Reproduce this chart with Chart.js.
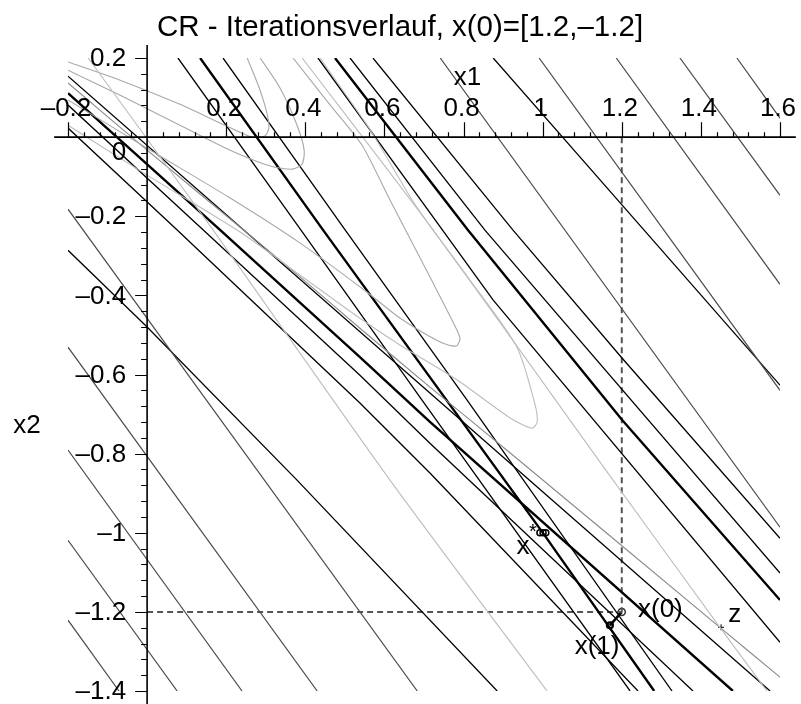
<!DOCTYPE html>
<html>
<head>
<meta charset="utf-8">
<script src="https://cdn.jsdelivr.net/npm/chart.js@4.4.0/dist/chart.umd.min.js"></script>
<style>
  body { margin: 0; background: #fff; }
</style>
</head>
<body>
<canvas id="plot" width="801" height="704"></canvas>
<script>
const titleText = 'CR - Iterationsverlauf, x(0)=[1.2,–1.2]'

// tick labels
const xTickVals = [-0.2, 0.2, 0.4, 0.6, 0.8, 1, 1.2, 1.4, 1.6]
const xTickText = ['–0.2', '0.2', '0.4', '0.6', '0.8', '1', '1.2', '1.4', '1.6']
const yTickVals = [0.2, 0, -0.2, -0.4, -0.6, -0.8, -1, -1.2, -1.4]
const yTickText = ['0.2', '0', '–0.2', '–0.4', '–0.6', '–0.8', '–1', '–1.2', '–1.4']

// contour lines of the model as [x1, x2] points
const blackThin = [
  [[0.078, 0.2], [0.389, -0.235], [0.695, -0.665], [1.221, -1.4]],
  [[0.192, 0.2], [0.501, -0.235], [0.809, -0.665], [1.327, -1.4]],
  [[0.432, 0.2], [0.875, -0.412], [1.6, -1.277]],
  [[0.513, 0.2], [0.854, -0.235], [1.6, -1.102]],
  [[0.571, 0.2], [0.925, -0.235], [1.201, -0.559], [1.6, -1.014]],
  [[0.875, 0.2], [1.201, -0.172], [1.6, -0.627]],
  [[-0.2, 0.154], [0.715, -0.647], [1.575, -1.4]],
  [[-0.2, 0.023], [0.076, -0.235], [0.538, -0.672], [0.715, -0.849], [1.241, -1.4]],
  [[-0.2, 0.081], [0.142, -0.235], [0.538, -0.602], [0.715, -0.774], [1.38, -1.4]],
  [[-0.2, -0.286], [0, -0.48], [0.379, -0.867], [0.885, -1.4]]
]
const blackThick = [
  [[0.134, 0.2], [0.445, -0.235], [1.001, -1.001], [1.282, -1.4]],
  [[0.475, 0.2], [0.811, -0.235], [1.201, -0.715], [1.6, -1.17]],
  [[-0.2, 0.111], [0.185, -0.235], [0.538, -0.556], [0.715, -0.72], [1.481, -1.4]]
]
const darkGray = [
  [[0.741, 0.2], [1.6, -0.986]],
  [[0.991, 0.2], [1.6, -0.64]],
  [[1.186, 0.2], [1.6, -0.372]],
  [[1.347, 0.2], [1.6, -0.147]],
  [[1.491, 0.2], [1.6, 0.048]],
  [[-0.2, -0.182], [0.683, -1.4]],
  [[-0.2, -0.531], [0.43, -1.4]],
  [[-0.2, -0.791], [0.24, -1.4]],
  [[-0.2, -1.019], [0.076, -1.4]],
  [[-0.2, -1.221], [-0.071, -1.4]]
]

// contours of f (gray)
const grayCurves = [
  [[0.253, 0.2], [0.281, 0.131], [0.301, 0.068], [0.308, 0.025], [0.298, 0.003], [0.265, 0], [0.197, 0.03], [0.083, 0.083], [-0.068, 0.144], [-0.2, 0.19]],
  [[0.286, 0.2], [0.336, 0.124], [0.379, 0.03], [0.397, -0.033], [0.392, -0.068], [0.367, -0.081], [0.311, -0.073], [0.21, -0.033], [0.083, 0.03], [-0.068, 0.106], [-0.2, 0.169]],
  [[0.369, 0.2], [0.463, 0.081], [0.543, -0.02], [0.614, -0.159], [0.723, -0.369], [0.771, -0.463], [0.791, -0.508], [0.781, -0.528], [0.741, -0.518], [0.64, -0.458], [0.556, -0.392], [0.387, -0.268], [0.21, -0.154], [0, -0.028], [-0.2, 0.094]]
]
const lightCurves = [
  [[0.437, 0.2], [0.564, 0.018], [0.67, -0.159], [0.723, -0.235], [0.816, -0.361], [0.935, -0.531], [0.981, -0.677], [0.986, -0.72], [0.973, -0.736], [0.918, -0.71], [0.784, -0.614], [0.64, -0.526], [0.538, -0.458], [0.387, -0.349], [0.235, -0.24], [0, -0.096], [-0.2, 0.03]],
  [[-0.149, 0.2], [0.167, -0.235], [0.614, -0.867], [1.011, -1.4]],
  [[0.392, 0.2], [0.723, -0.235], [1.178, -0.867], [1.448, -1.239], [1.567, -1.4]]
]
const midCurve = [[-0.2, 0.137], [0, -0.033], [0.26, -0.248], [0.387, -0.354], [0.538, -0.483], [0.715, -0.632], [0.925, -0.804], [1.448, -1.239], [1.6, -1.365]]

// iterates
const xStart = [1.2, -1.2]
const xNext = [1.17, -1.234]
const xStarPts = [[0.993, -1], [1.001, -1], [1.008, -1]]
const zPoint = [1.451, -1.239]

const pts = arr => arr.map(p => ({ x: p[0], y: p[1] }))

const line = (arr, color, width, extra) => Object.assign({
  data: pts(arr),
  showLine: true,
  borderColor: color,
  borderWidth: width,
  pointRadius: 0,
  fill: false,
  tension: 0
}, extra || {})

let datasets = []
lightCurves.forEach(c => datasets.push(line(c, '#bdbdbd', 1.1, { tension: 0.25 })))
grayCurves.forEach(c => datasets.push(line(c, '#a8a8a8', 1.1, { tension: 0.25 })))
datasets.push(line(midCurve, '#8a8a8a', 1.1, { tension: 0.25 }))
darkGray.forEach(c => datasets.push(line(c, '#4a4a4a', 1.2)))
blackThin.forEach(c => datasets.push(line(c, '#000', 1.3)))
blackThick.forEach(c => datasets.push(line(c, '#000', 2.4)))

// dashed guides to x(0)
datasets.push(line([[xStart[0], 0], xStart], '#555', 2, { borderDash: [6, 4] }))
datasets.push(line([[0, xStart[1]], xStart], '#555', 2, { borderDash: [6, 4] }))

// step x(0) -> x(1)
datasets.push(line([xStart, xNext], '#000', 2.5))

datasets.push({
  data: pts(xStarPts), showLine: false, pointStyle: 'circle', pointRadius: 3,
  borderColor: '#000', backgroundColor: 'rgba(0,0,0,0)', borderWidth: 1.5
})
datasets.push({
  data: pts([xStart]), showLine: false, pointStyle: 'circle', pointRadius: 3.5,
  borderColor: '#333', backgroundColor: '#fff', borderWidth: 1.5
})
datasets.push({
  data: pts([xNext]), showLine: false, pointStyle: 'circle', pointRadius: 3,
  borderColor: '#000', backgroundColor: 'rgba(0,0,0,0)', borderWidth: 2.2
})
datasets.push({
  data: pts([zPoint]), showLine: false, pointStyle: 'cross', pointRadius: 3,
  borderColor: '#000', borderWidth: 1
})

const FONT = '"Liberation Sans", Arial, sans-serif'

const mapleAxes = {
  id: 'mapleAxes',
  afterDatasetsDraw(chart) {
    const ctx = chart.ctx
    const sx = chart.scales.x
    const sy = chart.scales.y
    const ox = sx.getPixelForValue(0)
    const oy = sy.getPixelForValue(0)
    ctx.save()
    ctx.strokeStyle = '#000'
    ctx.fillStyle = '#000'

    // axis lines
    ctx.lineWidth = 1.6
    ctx.beginPath()
    ctx.moveTo(sx.getPixelForValue(-0.235), oy)
    ctx.lineTo(sx.getPixelForValue(1.64), oy)
    ctx.moveTo(ox, sy.getPixelForValue(0.233))
    ctx.lineTo(ox, sy.getPixelForValue(-1.44))
    ctx.stroke()

    // ticks, major every 0.2, minor every 0.04
    ctx.lineWidth = 1.2
    ctx.beginPath()
    for (let i = -5; i <= 40; i++) {
      if (i === 0) continue
      const px = Math.round(sx.getPixelForValue(i * 0.04)) + 0.5
      const len = i % 5 === 0 ? 15 : 5
      ctx.moveTo(px, oy)
      ctx.lineTo(px, oy - len)
    }
    for (let i = -35; i <= 5; i++) {
      if (i === 0) continue
      const py = Math.round(sy.getPixelForValue(i * 0.04)) + 0.5
      const len = i % 5 === 0 ? 12 : 6
      ctx.moveTo(ox, py)
      ctx.lineTo(ox - len, py)
    }
    ctx.stroke()

    // tick labels
    ctx.font = '26px ' + FONT
    ctx.textAlign = 'center'
    ctx.textBaseline = 'alphabetic'
    xTickVals.forEach((v, i) => {
      ctx.fillText(xTickText[i], sx.getPixelForValue(v) - 2, oy - 21)
    })
    ctx.textAlign = 'right'
    ctx.textBaseline = 'middle'
    yTickVals.forEach((v, i) => {
      let py = sy.getPixelForValue(v) + 1
      if (v === 0) py += 15
      ctx.fillText(yTickText[i], ox - 21, py)
    })

    // axis titles
    ctx.font = '26px ' + FONT
    ctx.textAlign = 'center'
    ctx.fillText('x1', sx.getPixelForValue(0.81), sy.getPixelForValue(0.15))
    ctx.fillText('x2', 27, sy.getPixelForValue(-0.73))

    // point labels
    ctx.textAlign = 'left'
    ctx.fillText('x(0)', sx.getPixelForValue(1.241), sy.getPixelForValue(-1.196))
    ctx.fillText('z', sx.getPixelForValue(1.469), sy.getPixelForValue(-1.208))
    ctx.textAlign = 'center'
    ctx.fillText('x(1)', sx.getPixelForValue(1.1375), sy.getPixelForValue(-1.289))
    ctx.fillText('x', sx.getPixelForValue(0.95), sy.getPixelForValue(-1.036))
    ctx.font = '20px ' + FONT
    ctx.fillText('*', sx.getPixelForValue(0.975), sy.getPixelForValue(-1.0))

    // title
    ctx.font = '29.5px ' + FONT
    ctx.textBaseline = 'alphabetic'
    ctx.fillText(titleText, 400, 36)
    ctx.restore()
  }
}

new Chart(document.getElementById('plot'), {
  type: 'scatter',
  data: { datasets: datasets },
  options: {
    responsive: false,
    animation: false,
    events: [],
    layout: { padding: { left: 68, right: 21, top: 58, bottom: 13 } },
    scales: {
      x: { type: 'linear', min: -0.2, max: 1.6, display: false },
      y: { type: 'linear', min: -1.4, max: 0.2, display: false }
    },
    plugins: {
      legend: { display: false },
      tooltip: { enabled: false }
    }
  },
  plugins: [mapleAxes]
})
</script>
</body>
</html>
